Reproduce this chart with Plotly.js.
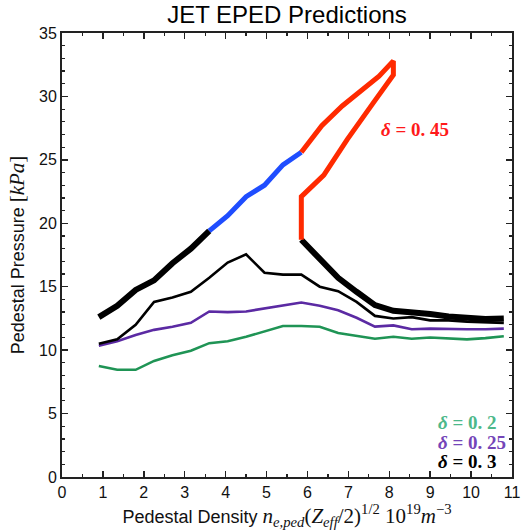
<!DOCTYPE html>
<html>
<head>
<meta charset="utf-8">
<script src="https://cdn.plot.ly/plotly-3.0.1.min.js"></script>
<style>html,body{margin:0;padding:0;background:#fff;}</style>
</head>
<body>
<div id="chart" style="width:521px;height:532px;"></div>
<script>
// Density grid for the δ = 0.2 / 0.25 / 0.3 scans
const density = [0.9, 1.35, 1.8, 2.25, 2.7, 3.15, 3.6, 4.05, 4.5, 4.95, 5.4, 5.85,
                 6.3, 6.75, 7.2, 7.65, 8.1, 8.55, 9.0, 9.45, 9.9, 10.35, 10.8];
const pDelta020 = [8.75, 8.45, 8.45, 9.15, 9.6, 9.95, 10.55, 10.7, 11.05, 11.45, 11.9, 11.9,
                   11.85, 11.35, 11.1, 10.9, 11.05, 10.9, 11.0, 10.95, 10.85, 10.95, 11.1];
const pDelta025 = [10.35, 10.7, 11.2, 11.6, 11.85, 12.15, 13.05, 13.0, 13.05, 13.3, 13.55, 13.75,
                   13.5, 13.15, 12.55, 11.85, 11.95, 11.65, 11.7, 11.65, 11.65, 11.65, 11.7];
const pDelta030 = [10.5, 10.85, 12.0, 13.8, 14.15, 14.6, 15.7, 16.9, 17.55, 16.1, 15.95, 15.95,
                   15.0, 14.65, 13.8, 12.7, 12.5, 12.6, 12.35, 12.35, 12.25, 12.2, 12.15];

// δ = 0.45 branches
const d045LowX  = [0.9, 1.35, 1.8, 2.25, 2.7, 3.15, 3.6];
const d045LowY  = [12.6, 13.5, 14.75, 15.5, 16.85, 18.0, 19.4];
const d045BlueX = [3.6, 4.05, 4.5, 4.95, 5.4, 5.85];
const d045BlueY = [19.4, 20.6, 22.1, 23.0, 24.6, 25.6];
const d045RedX  = [5.85, 6.35, 6.85, 7.35, 7.75, 8.1, 8.1, 7.6, 6.97, 6.4, 5.85, 5.85];
const d045RedY  = [25.6, 27.7, 29.25, 30.55, 31.6, 32.8, 31.7, 29.45, 26.6, 23.8, 22.1, 18.7];
const d045HighX = [5.85, 6.3, 6.75, 7.2, 7.65, 8.1, 8.55, 9.0, 9.45, 9.9, 10.35, 10.8];
const d045HighY = [18.7, 17.2, 15.7, 14.6, 13.55, 13.1, 13.0, 12.85, 12.65, 12.5, 12.45, 12.5];

const xTicks = [0,1,2,3,4,5,6,7,8,9,10,11];
const yTicks = [0,5,10,15,20,25,30,35];

function line(x, y, color, width) {
  return {x: x, y: y, mode: 'lines', type: 'scatter', hoverinfo: 'skip',
          line: {color: color, width: width, shape: 'linear'}, showlegend: false};
}

const traces = [
  line(density, pDelta020, '#1f9455', 2.6),
  line(density, pDelta025, '#5b2aa3', 2.6),
  line(density, pDelta030, '#000000', 2.6),
  line(d045LowX, d045LowY, '#000000', 6),
  line(d045HighX, d045HighY, '#000000', 6),
  line(d045BlueX, d045BlueY, '#1f4dff', 5),
  line(d045RedX, d045RedY, '#ff2a00', 5)
];

const serif = 'Liberation Serif, DejaVu Serif, serif';
const sans = 'Liberation Sans, Arial, sans-serif';

const axisCommon = {
  showgrid: false, zeroline: false, showline: true, linecolor: '#222', linewidth: 2,
  mirror: 'ticks', ticks: 'inside', ticklen: 6, tickwidth: 1.5, tickcolor: '#222',
  tickfont: {family: sans, size: 16, color: '#111'}
};

const layout = {
  width: 521, height: 532,
  margin: {l: 62, r: 9, t: 33, b: 55},
  paper_bgcolor: '#fff', plot_bgcolor: '#fff',
  title: {text: 'JET EPED Predictions', font: {family: sans, size: 24, color: '#000'},
          x: 0.5, xref: 'paper', y: 0.972, yref: 'container', yanchor: 'middle'},
  xaxis: Object.assign({}, axisCommon, {
    range: [0, 11], tickvals: xTicks, ticktext: xTicks.map(String),
    minor: {dtick: 0.5, ticks: 'inside', ticklen: 3, tickwidth: 1.2, tickcolor: '#222'},
    title: {text: 'Pedestal Density <span style="font-family:' + serif + ';font-size:21px"><i>n</i><sub><i>e,ped</i></sub>(<i>Z</i><sub><i>eff</i></sub>/2)<sup>1/2</sup> 10<sup>19</sup><i>m</i><sup>−3</sup></span>',
            font: {family: sans, size: 18, color: '#111'}, standoff: 6}
  }),
  yaxis: Object.assign({}, axisCommon, {
    range: [0, 35], tickvals: yTicks, ticktext: yTicks.map(String),
    minor: {dtick: 1, ticks: 'inside', ticklen: 3, tickwidth: 1.2, tickcolor: '#222'},
    title: {text: 'Pedestal Pressure <span style="font-family:' + serif + ';font-size:21px">[<i>kPa</i>]</span>',
            font: {family: sans, size: 18, color: '#111'}, standoff: 10}
  }),
  annotations: [
    {x: 7.75, y: 27.4, xref: 'x', yref: 'y', xanchor: 'left', yanchor: 'middle', showarrow: false,
     text: '<b><i>δ</i> = 0. 45</b>', font: {family: serif, size: 19, color: '#ff1a1a'}},
    {x: 9.15, y: 4.3, xref: 'x', yref: 'y', xanchor: 'left', yanchor: 'middle', showarrow: false,
     text: '<b><i>δ</i> = 0. 2</b>', font: {family: serif, size: 19, color: '#4db88a'}},
    {x: 9.15, y: 2.75, xref: 'x', yref: 'y', xanchor: 'left', yanchor: 'middle', showarrow: false,
     text: '<b><i>δ</i> = 0. 25</b>', font: {family: serif, size: 19, color: '#7445b8'}},
    {x: 9.15, y: 1.2, xref: 'x', yref: 'y', xanchor: 'left', yanchor: 'middle', showarrow: false,
     text: '<b><i>δ</i> = 0. 3</b>', font: {family: serif, size: 19, color: '#000'}}
  ]
};

Plotly.newPlot('chart', traces, layout, {displayModeBar: false, staticPlot: true});
</script>
</body>
</html>
